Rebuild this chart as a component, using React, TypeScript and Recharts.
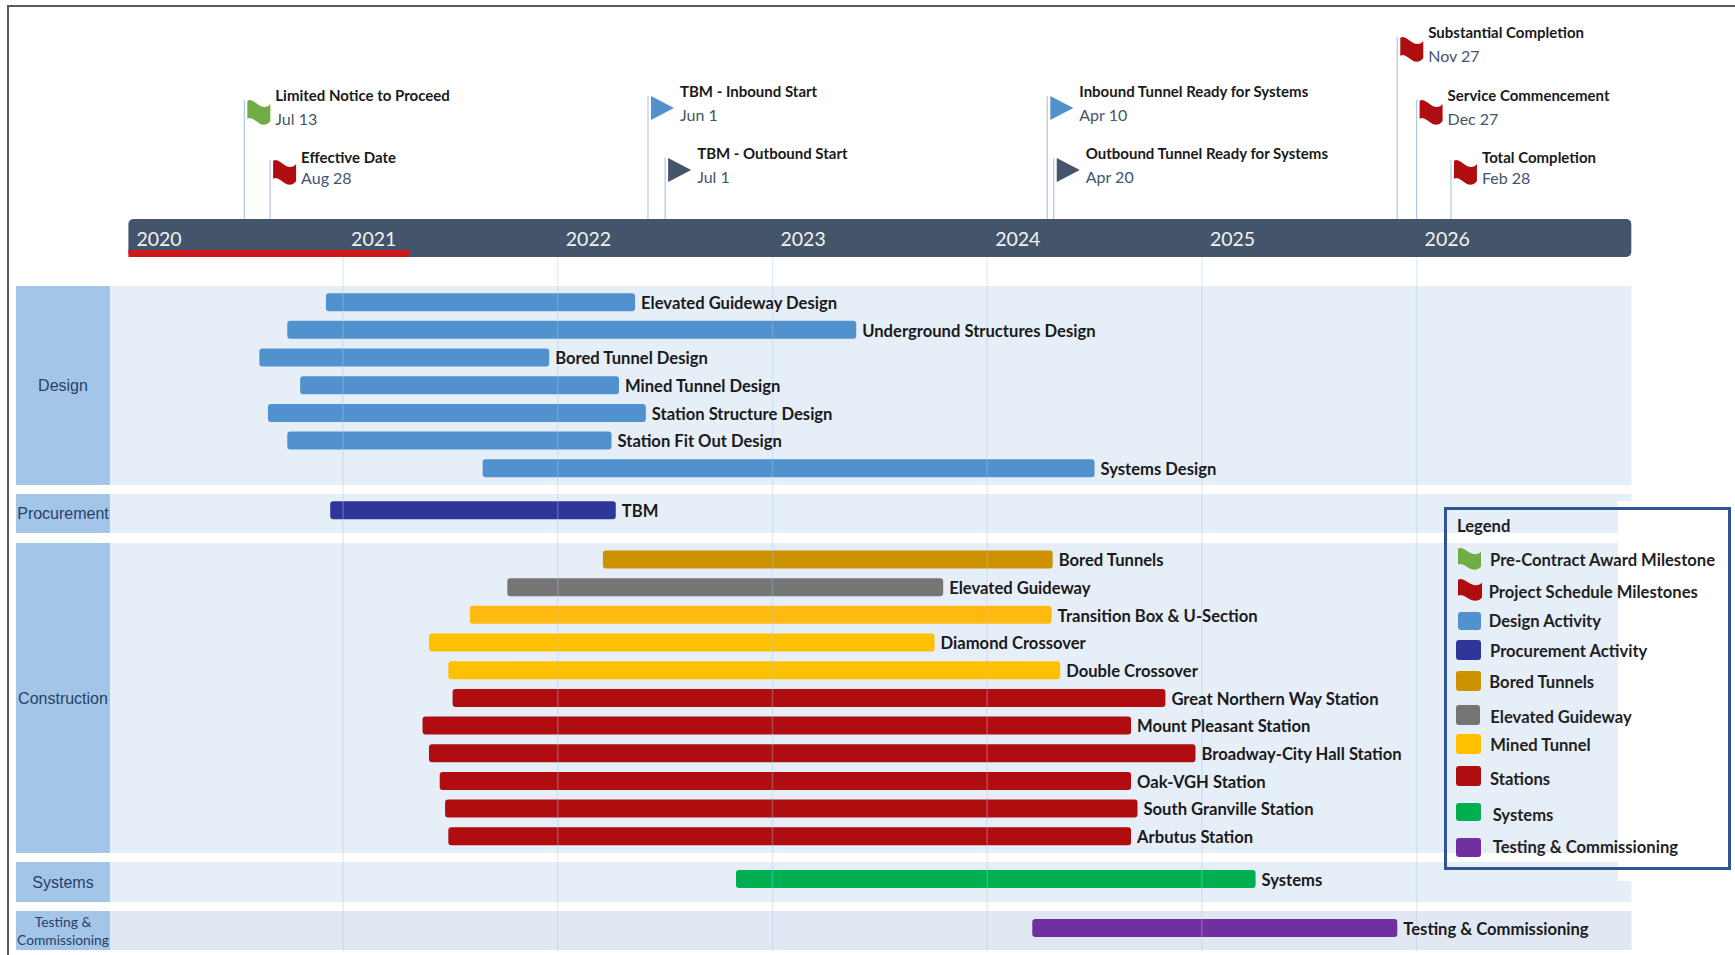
import React from 'react';
import {
  ComposedChart,
  XAxis,
  YAxis,
  Bar,
  Cell,
  LabelList,
  Scatter,
  Rectangle,
  ReferenceArea,
  ReferenceLine,
} from 'recharts';

const yearTicks = [2020, 2021, 2022, 2023, 2024, 2025, 2026];
const progressEnd = 2021.31;

const taskNames = [
  'Elevated Guideway Design',
  'Underground Structures Design',
  'Bored Tunnel Design',
  'Mined Tunnel Design',
  'Station Structure Design',
  'Station Fit Out Design',
  'Systems Design',
  'TBM',
  'Bored Tunnels',
  'Elevated Guideway',
  'Transition Box & U-Section',
  'Diamond Crossover',
  'Double Crossover',
  'Great Northern Way Station',
  'Mount Pleasant Station',
  'Broadway-City Hall Station',
  'Oak-VGH Station',
  'South Granville Station',
  'Arbutus Station',
  'Systems',
  'Testing & Commissioning',
];
const taskStarts = [
  2020.92, 2020.74, 2020.61, 2020.8, 2020.65, 2020.74, 2021.65, 2020.94, 2022.21, 2021.765, 2021.59,
  2021.4, 2021.49, 2021.51, 2021.37, 2021.4, 2021.45, 2021.475, 2021.49, 2022.83, 2024.21,
];
const taskEnds = [
  2022.36, 2023.39, 2021.96, 2022.285, 2022.41, 2022.25, 2024.5, 2022.27, 2024.305, 2023.795, 2024.3,
  2023.755, 2024.34, 2024.83, 2024.67, 2024.97, 2024.67, 2024.7, 2024.67, 2025.25, 2025.91,
];
const taskColors = [
  '#5192CE', '#5192CE', '#5192CE', '#5192CE', '#5192CE', '#5192CE', '#5192CE', '#2F3699', '#CC9200',
  '#757575', '#FFB90F', '#FFC000', '#FFC000', '#B00D10', '#B00D10', '#B00D10', '#B00D10', '#B00D10',
  '#B00D10', '#00B050', '#7030A0',
];

const milestoneNames = [
  'Limited Notice to Proceed',
  'Effective Date',
  'TBM - Inbound Start',
  'TBM - Outbound Start',
  'Inbound Tunnel Ready for Systems',
  'Outbound Tunnel Ready for Systems',
  'Substantial Completion',
  'Service Commencement',
  'Total Completion',
];
const milestoneDates = ['Jul 13', 'Aug 28', 'Jun 1', 'Jul 1', 'Apr 10', 'Apr 20', 'Nov 27', 'Dec 27', 'Feb 28'];
const milestoneWhen = [2020.54, 2020.66, 2022.42, 2022.5, 2024.28, 2024.31, 2025.91, 2026.0, 2026.16];
const milestoneTiers = [1, 0, 1, 0, 1, 0, 2, 1, 0];
const milestoneKinds = ['green', 'red', 'blue', 'slate', 'blue', 'slate', 'red', 'red', 'red'];

const legendLabels = [
  'Pre-Contract Award Milestone',
  'Project Schedule Milestones',
  'Design Activity',
  'Procurement Activity',
  'Bored Tunnels',
  'Elevated Guideway',
  'Mined Tunnel',
  'Stations',
  'Systems',
  'Testing & Commissioning',
];
const legendColors = [
  '#70AD47', '#B00D10', '#5192CE', '#2F3699', '#CC9200', '#757575', '#FFC000', '#B00D10', '#00B050', '#7030A0',
];

const kindColors: Record<string, string> = {
  green: '#70AD47',
  red: '#B00D10',
  blue: '#5192CE',
  slate: '#44546A',
};

// pixel layout helpers
const W = 1735;
const H = 955;
const yearAt = (px: number) => 2020 + (px - 128.4) / 214.7;
const rowAt = (px: number) => (px - 302) / 27.67;

// extra spacing between the activity groups, in rows
const rowOf = (i: number) => {
  if (i < 7) return i;
  if (i === 7) return i + 0.52;
  if (i < 19) return i + 1.3;
  if (i === 19) return i + 1.85;
  return i + 2.62;
};

const taskRows = taskNames.map((name, i) => ({
  name,
  row: rowOf(i),
  span: [taskStarts[i], taskEnds[i]],
}));

const tierTops = [160, 100, 37];
const milestoneRows = milestoneNames.map((name, i) => ({
  name,
  date: milestoneDates[i],
  when: milestoneWhen[i],
  kind: milestoneKinds[i],
  tier: milestoneTiers[i],
  row: rowAt(tierTops[milestoneTiers[i]] - (milestoneKinds[i] === 'blue' ? 4 : milestoneKinds[i] === 'slate' ? 2 : 0)),
}));

const bands = [
  { top: 286, bottom: 485, label: ['Design'], fill: '#E6EEF8' },
  { top: 494, bottom: 533, label: ['Procurement'], fill: '#E6EEF8' },
  { top: 543, bottom: 853, label: ['Construction'], fill: '#E6EEF8' },
  { top: 862, bottom: 902, label: ['Systems'], fill: '#E6EEF8' },
  { top: 911, bottom: 950, label: ['Testing &', 'Commissioning'], fill: '#E1E8F4' },
];

const FONT = 'Lato, sans-serif';
const BAR_THICKNESS = 18;
const FLAG_PATH = 'M0,1 C3,-2 8,3 13,6 C17,8 21,7 23,4 L23,21 C21,24 17,26 13,24 C8,21 3,16 0,19 Z';

// the number axis leaves the bar no band of its own, so thickness is set here
const TaskBar = (props: any) => (
  <Rectangle
    x={props.x}
    width={props.width}
    y={props.y + props.height / 2 - BAR_THICKNESS / 2}
    height={BAR_THICKNESS}
    fill={props.fill}
    radius={3}
  />
);

const MilestoneMark = (props: any) => {
  const { cx, cy, payload } = props;
  const m = payload;
  const triangle = m.kind === 'blue' || m.kind === 'slate';
  const low = !triangle && m.tier === 0;
  const textX = cx + (triangle ? 32 : 31);
  return (
    <g>
      <line x1={cx} x2={cx} y1={cy} y2={219} stroke="#B4C7E7" strokeWidth={1.2} />
      {triangle ? (
        <path d={`M${cx + 3},${cy} L${cx + 26},${cy + 12} L${cx + 3},${cy + 24} Z`} fill={kindColors[m.kind]} />
      ) : (
        <path d={FLAG_PATH} transform={`translate(${cx + 3},${cy})`} fill={kindColors[m.kind]} />
      )}
      <text x={textX} y={cy + (low ? -2 : -4) + 5} fontSize={15} fontWeight={700} fill="#1A1A1A" fontFamily={FONT}>
        {m.name}
      </text>
      <text x={textX} y={cy + (low ? 19 : 20) + 5} fontSize={16} fill="#44546A" fontFamily={FONT}>
        {m.date}
      </text>
    </g>
  );
};

const CellLabel = (lines: string[]) => (props: any) => {
  const { x, y, width, height } = props.viewBox;
  const cx = x + width / 2;
  const cy = y + height / 2;
  if (lines.length === 1) {
    return (
      <text x={cx} y={cy + 5.5} textAnchor="middle" fontSize={16} fill="#2B3F66" fontFamily="Liberation Sans, Arial">
        {lines[0]}
      </text>
    );
  }
  return (
    <text textAnchor="middle" fontSize={13.8} fill="#2B3F66" fontFamily={FONT}>
      <tspan x={cx} y={cy - 4}>
        {lines[0]}
      </tspan>
      <tspan x={cx} y={cy + 14}>
        {lines[1]}
      </tspan>
    </text>
  );
};

const YearLabel = (props: any) => (
  <text x={props.viewBox.x + 8} y={246} fill="#F2F2F2" fontSize={19.5} fontFamily={FONT}>
    {props.year}
  </text>
);

// swatch box and text position for every legend row
const legendSwatches = [
  [1458, 548, 23, 22],
  [1458, 579, 24, 22],
  [1458, 612, 23, 18],
  [1456, 640, 25, 20],
  [1456, 671, 25, 20],
  [1456, 705, 24, 20],
  [1456, 734, 25, 20],
  [1456, 766, 25, 20],
  [1456, 803, 25, 18],
  [1456, 838, 25, 19],
];
const legendTextX = [1490, 1488.7, 1488.7, 1490, 1489.3, 1490.3, 1490.3, 1490, 1492.7, 1492.7];
const legendTextY = [559.7, 591.7, 621.3, 651, 682, 716.7, 745, 778.7, 815, 847];

const legendText: React.CSSProperties = {
  position: 'absolute',
  transform: 'translateY(-50%)',
  whiteSpace: 'nowrap',
  fontFamily: FONT,
  fontWeight: 700,
  fontSize: 16.6,
  color: '#1F1F1F',
  lineHeight: 1,
};

const LegendBox = () => (
  <>
    <div style={{ position: 'absolute', left: 1618, top: 501, width: 14, height: 380, background: '#fff' }} />
    <div
      style={{
        position: 'absolute',
        left: 1444,
        top: 507,
        width: 281,
        height: 357,
        border: '3.5px solid #2F5597',
      }}
    />
    <div style={{ ...legendText, left: 1457, top: 525.7 }}>Legend</div>
    {legendLabels.map((label, i) => {
      const [x, y, w, h] = legendSwatches[i];
      return (
        <React.Fragment key={label}>
          {i < 2 ? (
            <svg
              style={{ position: 'absolute', left: x, top: y }}
              width={w}
              height={h}
              viewBox="0 0 23 25"
              preserveAspectRatio="none"
            >
              <path d={FLAG_PATH} fill={legendColors[i]} />
            </svg>
          ) : (
            <div
              style={{
                position: 'absolute',
                left: x,
                top: y,
                width: w,
                height: h,
                borderRadius: 3,
                background: legendColors[i],
              }}
            />
          )}
          <div style={{ ...legendText, left: legendTextX[i], top: legendTextY[i] }}>{label}</div>
        </React.Fragment>
      );
    })}
  </>
);

export default function App() {
  return (
    <div style={{ position: 'absolute', left: 0, top: 0, width: W, height: H, overflow: 'hidden', background: '#fff' }}>
      <ComposedChart
        width={W}
        height={H}
        layout="vertical"
        data={taskRows}
        margin={{ top: 0, right: 0, bottom: 0, left: 0 }}
      >
        <XAxis
          type="number"
          dataKey="when"
          orientation="top"
          domain={[yearAt(0), yearAt(W)]}
          ticks={yearTicks}
          interval={0}
          height={0}
          axisLine={false}
          tickLine={false}
          tick={false}
          allowDataOverflow
        />
        <YAxis type="number" dataKey="row" domain={[rowAt(0), rowAt(H)]} hide width={0} allowDataOverflow />

        {bands.map((b) => (
          <ReferenceArea
            key={b.label[0]}
            x1={yearAt(110)}
            x2={yearAt(1631.5)}
            y1={rowAt(b.top)}
            y2={rowAt(b.bottom)}
            fill={b.fill}
            fillOpacity={1}
            stroke="none"
          />
        ))}
        {bands.map((b) => (
          <ReferenceArea
            key={`cell-${b.label[0]}`}
            x1={yearAt(16)}
            x2={yearAt(110)}
            y1={rowAt(b.top)}
            y2={rowAt(b.bottom)}
            fill="#A2C5E8"
            fillOpacity={1}
            stroke="none"
            label={CellLabel(b.label)}
          />
        ))}
        {yearTicks.slice(1).map((y) => (
          <ReferenceLine
            key={y}
            segment={[
              { x: y, y: rowAt(257) },
              { x: y, y: rowAt(952) },
            ]}
            stroke="#A9C8EA"
            strokeOpacity={0.32}
            strokeWidth={1.5}
          />
        ))}

        <ReferenceArea
          x1={2020}
          x2={2027}
          y1={rowAt(219)}
          y2={rowAt(257)}
          fill="#44546A"
          fillOpacity={1}
          stroke="none"
          radius={5}
        />
        <ReferenceArea
          x1={2020}
          x2={progressEnd}
          y1={rowAt(250)}
          y2={rowAt(257)}
          fill="#D0161B"
          fillOpacity={1}
          stroke="none"
        />
        {yearTicks.map((y) => (
          <ReferenceLine key={`year-${y}`} x={y} stroke="none" label={<YearLabel year={y} />} />
        ))}

        <Bar dataKey="span" shape={TaskBar} isAnimationActive={false}>
          {taskRows.map((t, i) => (
            <Cell key={t.name} fill={taskColors[i]} />
          ))}
          <LabelList
            dataKey="name"
            position="right"
            offset={6}
            dy={1}
            fill="#1A1A1A"
            fontSize={16.6}
            fontWeight={700}
            fontFamily={FONT}
          />
        </Bar>

        <Scatter data={milestoneRows} dataKey="row" shape={MilestoneMark} isAnimationActive={false} />
      </ComposedChart>

      <div
        style={{
          position: 'absolute',
          left: 7,
          top: 5,
          right: 0,
          bottom: 0,
          borderLeft: '2px solid #595959',
          borderTop: '2px solid #595959',
        }}
      />
      <LegendBox />
    </div>
  );
}
